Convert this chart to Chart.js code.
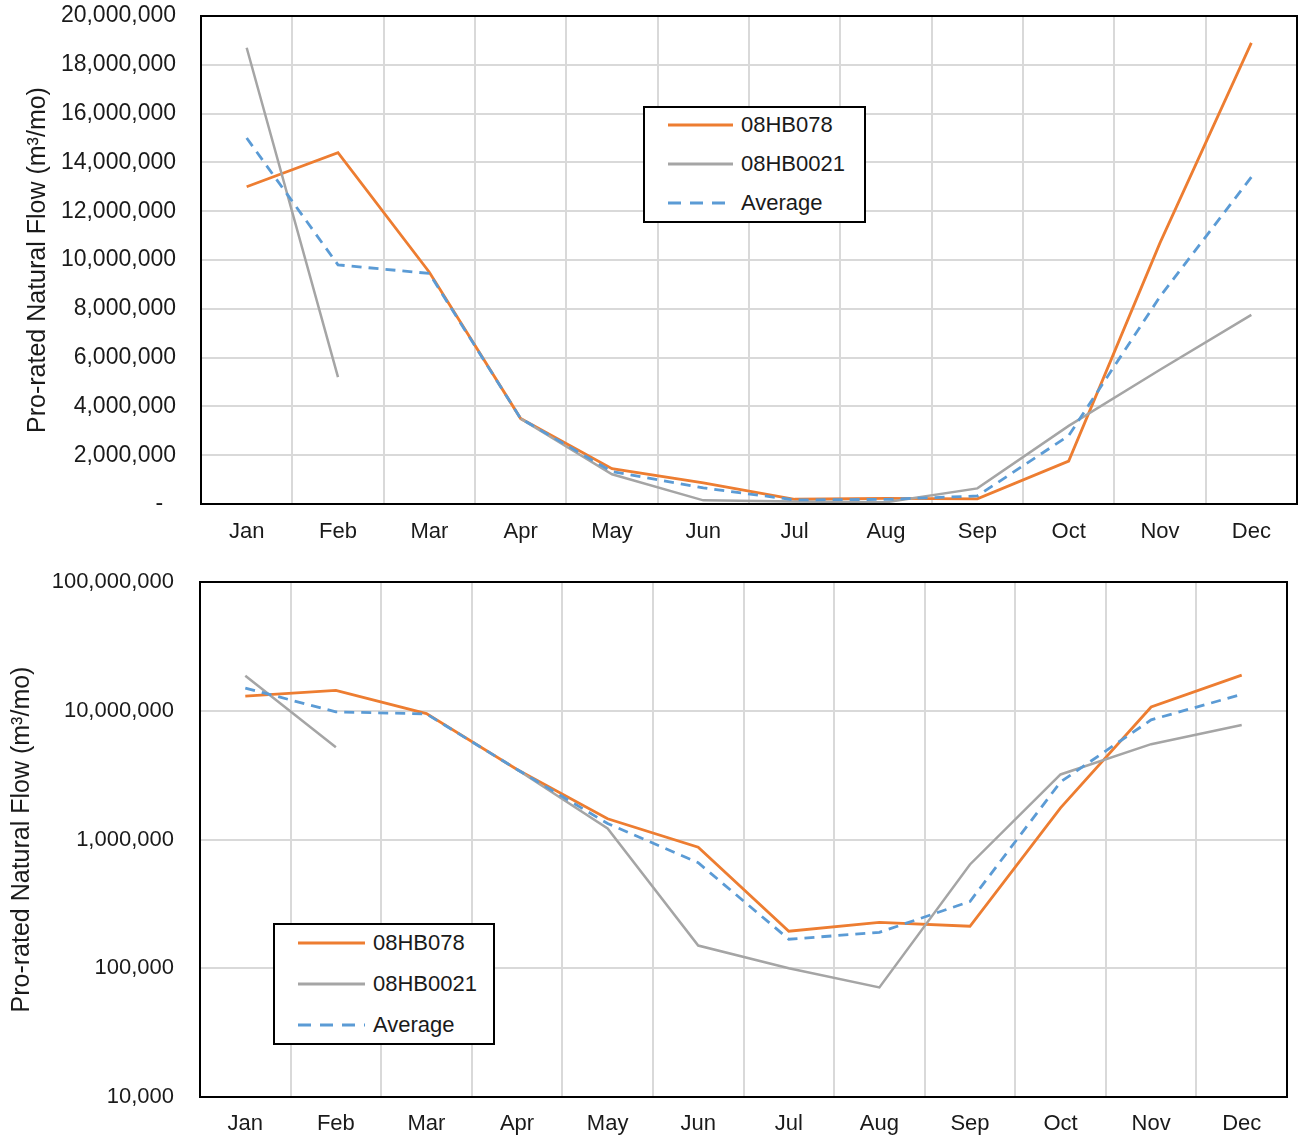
<!DOCTYPE html>
<html>
<head>
<meta charset="utf-8">
<script src="https://cdn.jsdelivr.net/npm/chart.js@4.4.1/dist/chart.umd.min.js"></script>
<style>
  body { margin: 0; background: #fff; font-family: "Liberation Sans", Arial, sans-serif; }
  #wrap { position: relative; width: 1298px; height: 1139px; overflow: hidden; }
  canvas { position: absolute; left: 0; }
  #topChart { top: 0; }
  #bottomChart { top: 556px; }
  .legend { position: absolute; border: 2px solid #000; background: #fff; box-sizing: border-box; }
  .legend .row { position: absolute; left: 23px; height: 30px; display: flex; align-items: center;
                 font-size: 22px; color: #1a1a1a; white-space: nowrap; }
  .legend svg { margin-right: 8px; }
</style>
</head>
<body>
<div id="wrap">
  <canvas id="topChart" width="1298" height="556"></canvas>
  <canvas id="bottomChart" width="1298" height="583"></canvas>
  <div id="legendTop" class="legend" style="left:643px; top:106px; width:223px; height:117px;"></div>
  <div id="legendBottom" class="legend" style="left:273px; top:923px; width:222px; height:122px;"></div>
</div>
<script>
// --- data ---
const months = ['Jan', 'Feb', 'Mar', 'Apr', 'May', 'Jun', 'Jul', 'Aug', 'Sep', 'Oct', 'Nov', 'Dec'];
const flow08HB078 = [13000000, 14400000, 9500000, 3500000, 1450000, 870000, 194000, 227000, 212000, 1760000, 10700000, 18900000];
const flow08HB0021 = [18700000, 5200000, null, 3500000, 1220000, 150000, 100000, 71000, 640000, 3200000, 5500000, 7750000];
const flowAverage = [15000000, 9800000, 9450000, 3500000, 1330000, 660000, 168000, 190000, 330000, 2800000, 8500000, 13400000];

const linearMin = 0;
const linearMax = 20000000;
const linearStep = 2000000;
const logTicks = [10000, 100000, 1000000, 10000000, 100000000];

const yTitle = 'Pro-rated Natural Flow (m\u00B3/mo)';

Chart.defaults.font.family = '"Liberation Sans", Arial, sans-serif';
Chart.defaults.font.size = 22;
Chart.defaults.color = '#1a1a1a';

const gridColor = '#d9d9d9';

// box round the plot area
const frame = {
  id: 'frame',
  afterDraw(chart) {
    const { ctx, chartArea: a } = chart;
    ctx.save();
    ctx.strokeStyle = '#000';
    ctx.lineWidth = 2;
    ctx.strokeRect(a.left, a.top, a.right - a.left, a.bottom - a.top);
    ctx.restore();
  }
};

function makeDatasets() {
  return [
    { label: '08HB078', data: flow08HB078, borderColor: '#ED7D31', borderWidth: 2.8, order: 3 },
    { label: '08HB0021', data: flow08HB0021, borderColor: '#A5A5A5', borderWidth: 2.5, order: 2 },
    { label: 'Average', data: flowAverage, borderColor: '#5B9BD5', borderWidth: 2.8, borderDash: [10, 7], order: 1 }
  ].map(d => Object.assign(d, { pointRadius: 0, tension: 0, fill: false, spanGaps: false }));
}

function makeChart(id, yScale, layout) {
  return new Chart(document.getElementById(id), {
    type: 'line',
    data: { labels: months, datasets: makeDatasets() },
    options: {
      responsive: false,
      animation: false,
      events: [],
      layout: { padding: layout.padding },
      plugins: { legend: { display: false }, tooltip: { enabled: false } },
      scales: {
        x: {
          offset: true,
          grid: { offset: true, color: gridColor, lineWidth: 2, drawTicks: false },
          border: { display: false },
          ticks: { padding: layout.xPad, maxRotation: 0, autoSkip: false },
          afterFit: s => { s.height = layout.xHeight; s.paddingLeft = 0; s.paddingRight = 0; }
        },
        y: Object.assign({
          grid: { color: gridColor, lineWidth: 2, drawTicks: false },
          border: { display: false },
          title: { display: true, text: yTitle, font: { size: 25 }, padding: { top: layout.titlePad, bottom: 0 } },
          afterFit: s => { s.width = layout.yWidth; s.paddingTop = 0; s.paddingBottom = 0; }
        }, yScale)
      }
    },
    plugins: [frame]
  });
}

const topChart = makeChart('topChart', {
  type: 'linear',
  min: linearMin,
  max: linearMax,
  ticks: {
    stepSize: linearStep,
    padding: 25,
    font: { size: 23 },
    callback: v => v === 0 ? '-  ' : v.toLocaleString('en-US')
  }
}, { padding: { top: 16, right: 1, left: 0, bottom: 0 }, xHeight: 52, yWidth: 201, xPad: 15, titlePad: 23 });

const bottomChart = makeChart('bottomChart', {
  type: 'logarithmic',
  min: logTicks[0],
  max: logTicks[logTicks.length - 1],
  afterBuildTicks: s => { s.ticks = logTicks.map(v => ({ value: v })); },
  ticks: {
    padding: 26,
    font: { size: 22 },
    callback: v => Number(v).toLocaleString('en-US')
  }
}, { padding: { top: 26, right: 11, left: 0, bottom: 0 }, xHeight: 42, yWidth: 200, xPad: 14, titlePad: 7 });

// legend boxes built from the chart's datasets
function makeLegend(chart, el, rowTops, sampleWidth) {
  chart.data.datasets.forEach((ds, i) => {
    const row = document.createElement('div');
    row.className = 'row';
    row.style.top = rowTops[i] + 'px';
    const dash = ds.borderDash ? `stroke-dasharray="13 9"` : '';
    row.innerHTML = `<svg width="${sampleWidth}" height="6"><line x1="0" y1="3" x2="${sampleWidth}" y2="3" stroke="${ds.borderColor}" stroke-width="3" ${dash}/></svg><span>${ds.label}</span>`;
    el.appendChild(row);
  });
}

makeLegend(topChart, document.getElementById('legendTop'), [2, 41, 80], 65);
makeLegend(bottomChart, document.getElementById('legendBottom'), [3, 44, 85], 67);
</script>
</body>
</html>
